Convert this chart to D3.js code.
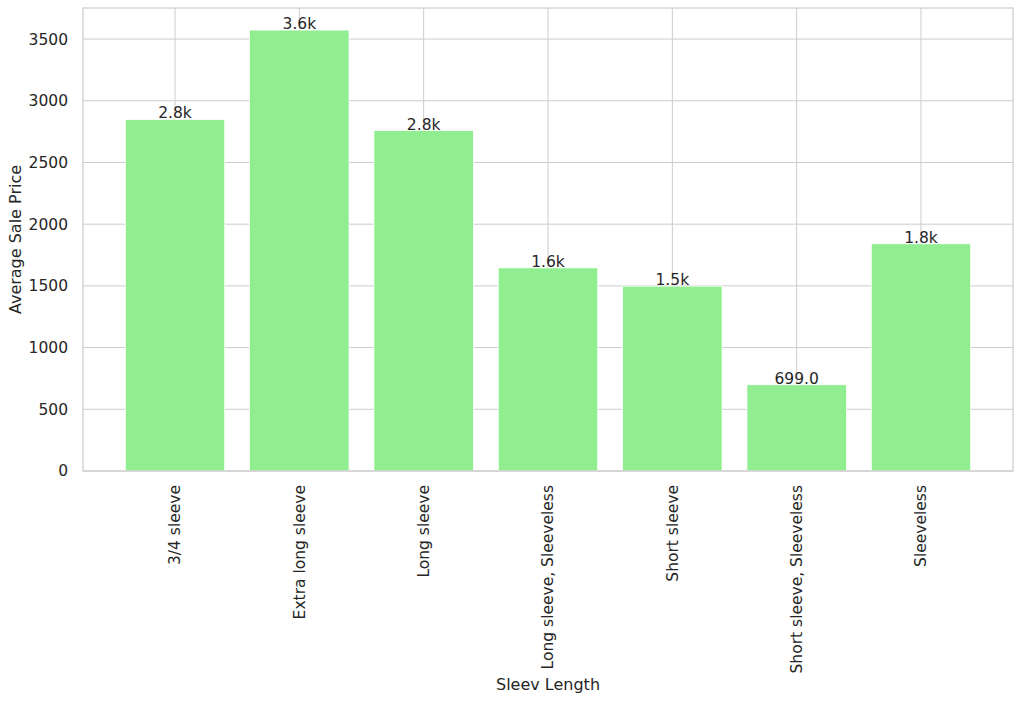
<!DOCTYPE html>
<html>
<head>
<meta charset="utf-8">
<script src="https://d3js.org/d3.v7.min.js"></script>
<style>
  body { margin: 0; background: #fff; }
  text { font-family: "DejaVu Sans", sans-serif; fill: #262626; }
</style>
</head>
<body>
<div id="chart"></div>
<script>
// data
var sleeves = ["3/4 sleeve", "Extra long sleeve", "Long sleeve", "Long sleeve, Sleeveless",
  "Short sleeve", "Short sleeve, Sleeveless", "Sleeveless"];
var avgPrice = [2849, 3573, 2759, 1646, 1498, 699, 1841];
var yTicks = [0, 500, 1000, 1500, 2000, 2500, 3000, 3500];

var svgWidth = 1022;
var svgHeight = 702;
var margin = { top: 8, right: 9, bottom: 231, left: 83 };
var chartWidth = svgWidth - margin.left - margin.right;
var chartHeight = svgHeight - margin.top - margin.bottom;

var svg = d3.select("#chart")
  .append("svg")
  .attr("width", svgWidth)
  .attr("height", svgHeight);

var chartGroup = svg.append("g")
  .attr("transform", `translate(${margin.left}, ${margin.top})`);

// scales
var xBandScale = d3.scaleBand()
  .domain(sleeves)
  .range([0, chartWidth])
  .paddingInner(0.2)
  .paddingOuter(0.34);

var yLinearScale = d3.scaleLinear()
  .domain([0, d3.max(avgPrice) * 1.05])
  .range([chartHeight, 0]);

// grid lines
chartGroup.append("g")
  .selectAll("line")
  .data(yTicks)
  .enter()
  .append("line")
  .attr("x1", 0)
  .attr("x2", chartWidth)
  .attr("y1", d => yLinearScale(d))
  .attr("y2", d => yLinearScale(d))
  .attr("stroke", "#cccccc")
  .attr("stroke-width", 1);

chartGroup.append("g")
  .selectAll("line")
  .data(sleeves)
  .enter()
  .append("line")
  .attr("x1", d => xBandScale(d) + xBandScale.bandwidth() / 2)
  .attr("x2", d => xBandScale(d) + xBandScale.bandwidth() / 2)
  .attr("y1", 0)
  .attr("y2", chartHeight)
  .attr("stroke", "#cccccc")
  .attr("stroke-width", 1);

// bars
chartGroup.selectAll("rect.bar")
  .data(avgPrice)
  .enter()
  .append("rect")
  .attr("class", "bar")
  .attr("x", (d, i) => xBandScale(sleeves[i]))
  .attr("y", d => yLinearScale(d))
  .attr("width", xBandScale.bandwidth())
  .attr("height", d => chartHeight - yLinearScale(d))
  .attr("fill", "#90ee90")
  .attr("stroke", "#ffffff")
  .attr("stroke-width", 0.8);

// value labels
function fmt(v) {
  return v >= 1000 ? (v / 1000).toFixed(1) + "k" : v.toFixed(1);
}
chartGroup.selectAll("text.val")
  .data(avgPrice)
  .enter()
  .append("text")
  .attr("class", "val")
  .attr("x", (d, i) => xBandScale(sleeves[i]) + xBandScale.bandwidth() / 2)
  .attr("y", d => yLinearScale(d) - 1)
  .attr("text-anchor", "middle")
  .attr("font-size", "15.5px")
  .text(d => fmt(d));

// axes
var bottomAxis = d3.axisBottom(xBandScale).tickSize(0).tickPadding(0);
var leftAxis = d3.axisLeft(yLinearScale)
  .tickValues(yTicks)
  .tickFormat(d3.format("d"))
  .tickSize(0)
  .tickPadding(15);

var xAxisG = chartGroup.append("g")
  .attr("transform", `translate(0, ${chartHeight})`)
  .call(bottomAxis);
xAxisG.select(".domain").remove();
xAxisG.selectAll("text")
  .attr("font-size", "15.5px")
  .attr("fill", "#262626")
  .attr("transform", "rotate(-90)")
  .attr("x", -14)
  .attr("y", 0)
  .attr("dy", "0.35em")
  .attr("text-anchor", "end");

var yAxisG = chartGroup.append("g").call(leftAxis);
yAxisG.select(".domain").remove();
yAxisG.selectAll("text")
  .attr("font-size", "15.5px")
  .attr("fill", "#262626");

// frame
chartGroup.append("rect")
  .attr("x", 0)
  .attr("y", 0)
  .attr("width", chartWidth)
  .attr("height", chartHeight)
  .attr("fill", "none")
  .attr("stroke", "#cccccc")
  .attr("stroke-width", 1.25);

// axis labels
chartGroup.append("text")
  .attr("transform", "rotate(-90)")
  .attr("x", -chartHeight / 2)
  .attr("y", -margin.left + 21)
  .attr("text-anchor", "middle")
  .attr("font-size", "16px")
  .text("Average Sale Price");

chartGroup.append("text")
  .attr("x", chartWidth / 2)
  .attr("y", 690 - margin.top)
  .attr("text-anchor", "middle")
  .attr("font-size", "16px")
  .text("Sleev Length");
</script>
</body>
</html>
